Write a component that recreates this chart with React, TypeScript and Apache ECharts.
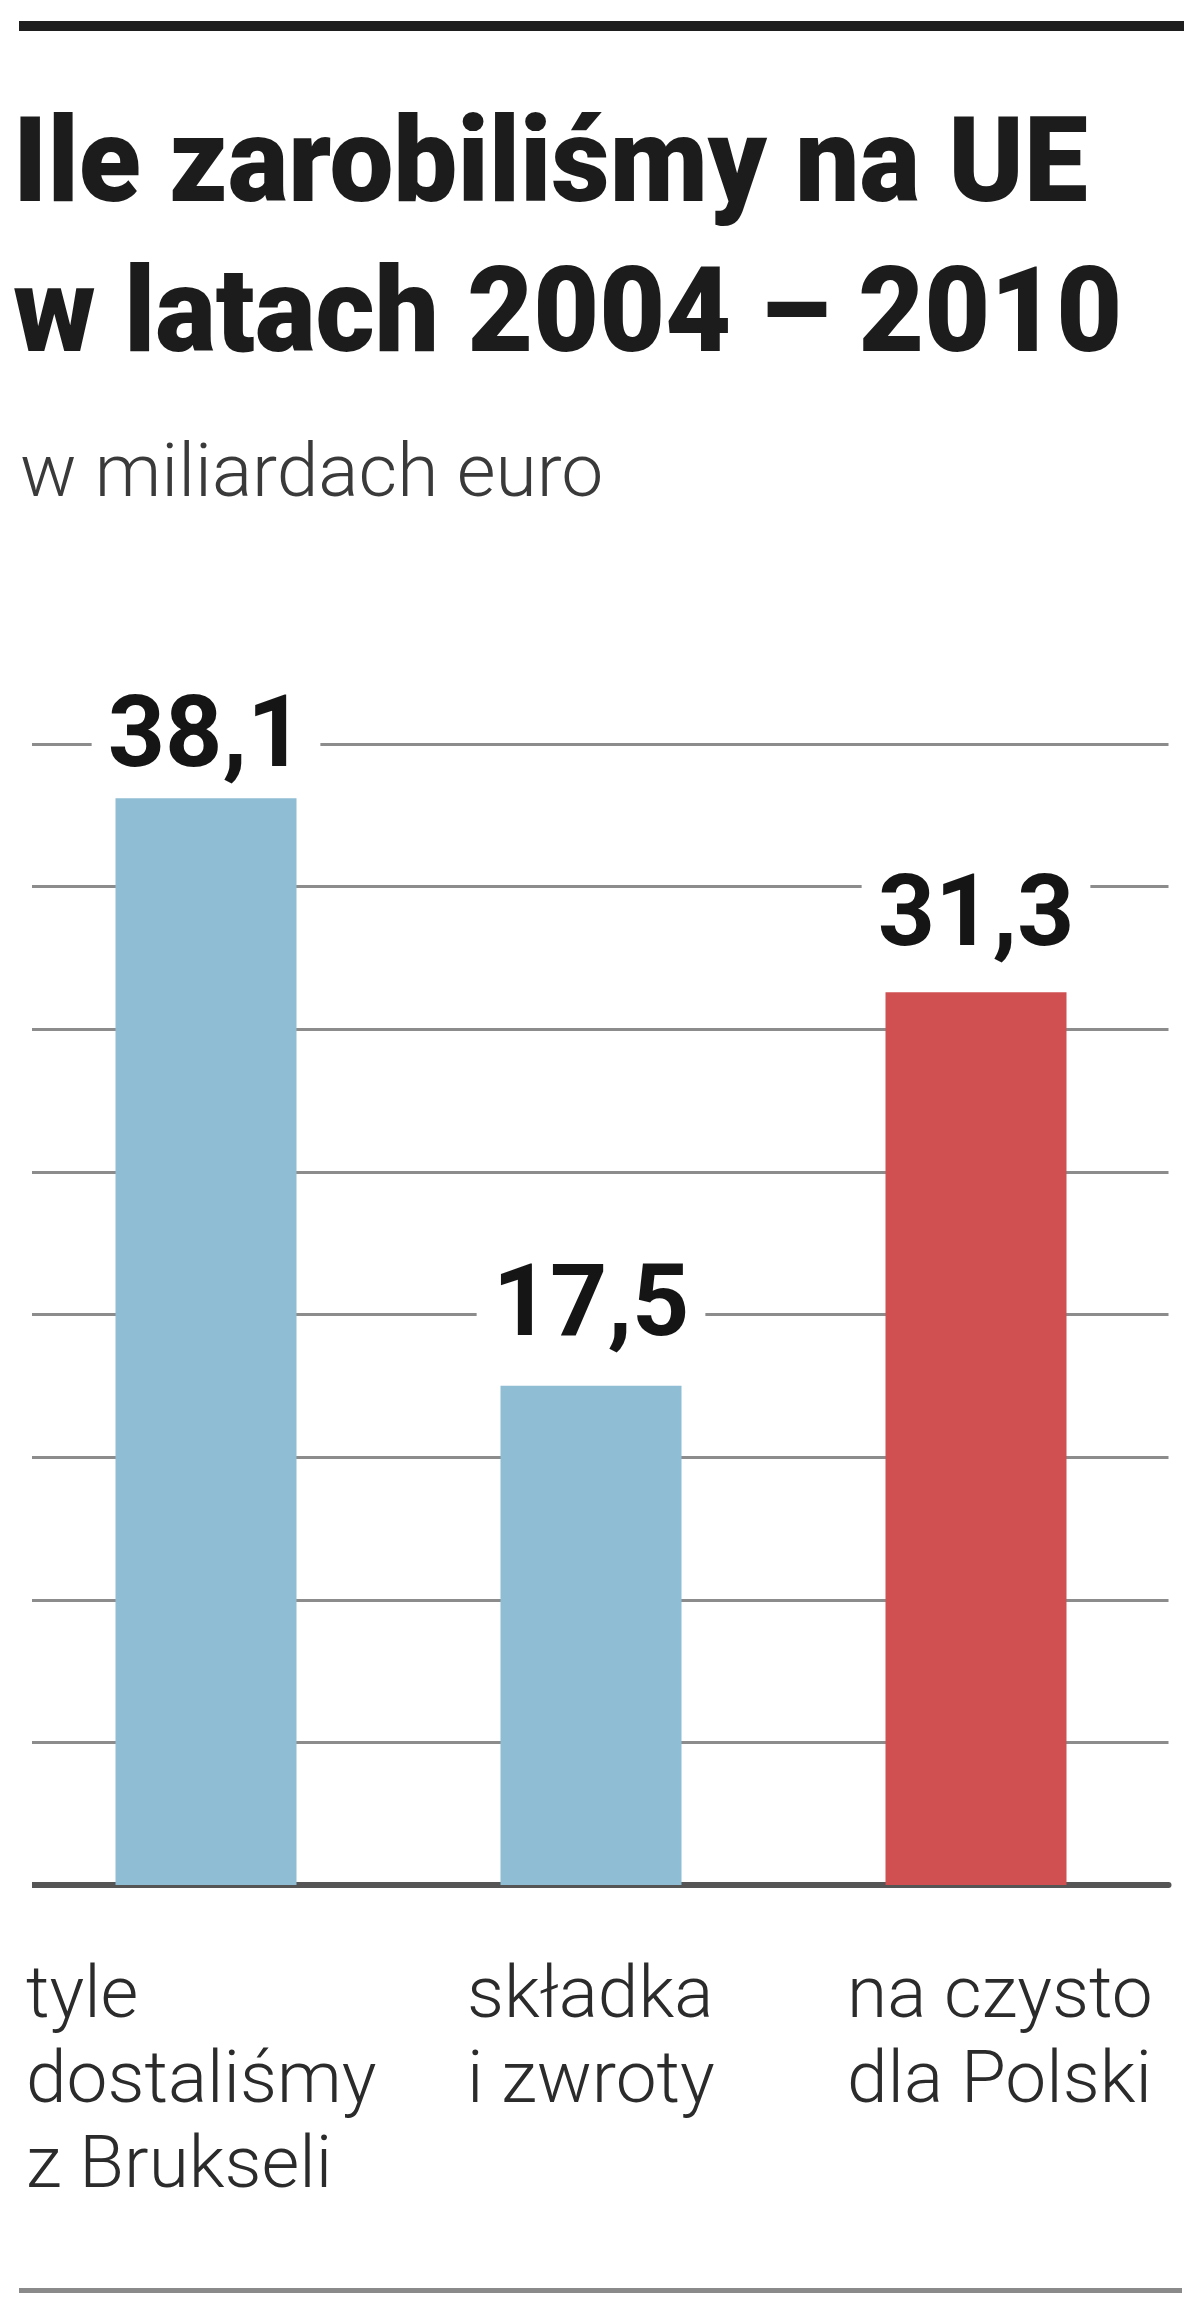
import React, { useEffect, useRef } from "react";
import * as echarts from "echarts";

// ---- data ----
const titleLines = ["Ile zarobiliśmy na UE", "w latach 2004 – 2010"];
const subtitle = "w miliardach euro";
const categories = ["tyle\ndostaliśmy\nz Brukseli", "składka\ni zwroty", "na czysto\ndla Polski"];
const values = [38.1, 17.5, 31.3];
const yMin = 0;
const yMax = 40;
const yStep = 5;

// ---- styles / layout ----
const barColors = ["#8fbdd3", "#8fbdd3", "#d05052"];
const labelDistances = [17, 35, 32];
const catLabelX = [26, 467, 847];
const FONT = "Roboto, 'Noto Sans', sans-serif";

export default function App() {
  const ref = useRef<HTMLDivElement>(null);

  useEffect(() => {
    if (!ref.current) return;
    const chart = echarts.init(ref.current, undefined, { renderer: "svg" });

    const option: any = {
      animation: false,
      backgroundColor: "#ffffff",
      title: [
        {
          text: subtitle,
          left: 20,
          top: 432,
          padding: 0,
          textStyle: {
            fontFamily: FONT,
            fontWeight: 300,
            fontSize: 75,
            lineHeight: 75,
            color: "#3a3a3a",
          },
        },
      ],
      grid: { left: 13.5, right: 31.5, top: 744, bottom: 422, containLabel: false },
      xAxis: {
        type: "category",
        data: categories,
        axisLabel: { show: false },
        axisTick: { show: false },
        axisLine: { show: true, lineStyle: { color: "#555555", width: 6 } },
      },
      yAxis: {
        type: "value",
        min: yMin,
        max: yMax,
        interval: yStep,
        axisLabel: { show: false },
        axisTick: { show: false },
        axisLine: { show: false },
        splitLine: { show: true, lineStyle: { color: "#8c8c8c", width: 3 } },
      },
      series: [
        {
          type: "bar",
          barWidth: 181,
          data: values.map((v, i) => ({
            value: v,
            itemStyle: { color: barColors[i] },
            label: { distance: labelDistances[i] },
          })),
          label: {
            show: true,
            position: "top",
            formatter: (p: any) => String(p.value).replace(".", ","),
            fontFamily: FONT,
            fontWeight: "bold",
            fontSize: 100,
            lineHeight: 100,
            color: "#151515",
            backgroundColor: "#ffffff",
            padding: [0, 16, 0, 16],
          },
        },
      ],
      graphic: [
        {
          type: "text",
          z: 100,
          x: 13,
          y: 85,
          scaleX: 0.965,
          style: {
            text: titleLines.join("\n"),
            fontFamily: FONT,
            fontWeight: 900,
            fontSize: 118,
            lineHeight: 150,
            fill: "#1c1c1c",
            align: "left",
            verticalAlign: "top",
          },
        },
        {
          type: "rect",
          z: 100,
          shape: { x: 19, y: 21, width: 1165, height: 10 },
          style: { fill: "#1e1e1e" },
        },
        {
          type: "rect",
          z: 100,
          shape: { x: 0, y: 700, width: 32, height: 1195 },
          style: { fill: "#ffffff" },
        },
        {
          type: "rect",
          z: 100,
          shape: { x: 19, y: 2288, width: 1163, height: 5 },
          style: { fill: "#8a8a8a" },
        },
        ...categories.map((c, i) => ({
          type: "text",
          z: 100,
          x: catLabelX[i],
          y: 1949,
          style: {
            text: c,
            fontFamily: FONT,
            fontWeight: 300,
            fontSize: 73,
            lineHeight: 85,
            fill: "#2b2b2b",
            align: "left",
            verticalAlign: "top",
          },
        })),
      ],
    };

    chart.setOption(option);
    return () => chart.dispose();
  }, []);

  return (
    <div
      ref={ref}
      style={{ position: "absolute", left: 0, top: 0, width: 1200, height: 2307 }}
    />
  );
}
